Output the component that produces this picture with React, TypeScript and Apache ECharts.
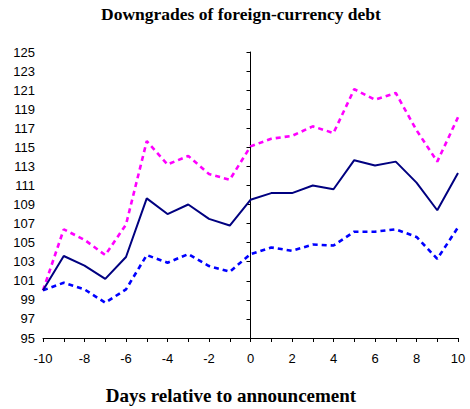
import React, { useEffect, useRef } from "react";
import * as echarts from "echarts";

const days = [-10, -9, -8, -7, -6, -5, -4, -3, -2, -1, 0, 1, 2, 3, 4, 5, 6, 7, 8, 9, 10];
const meanValues = [100.0, 103.6, 102.6, 101.2, 103.5, 109.65, 108.0, 109.0, 107.5, 106.8, 109.5, 110.2, 110.2, 111.0, 110.6, 113.65, 113.1, 113.5, 111.3, 108.4, 112.3];
const upperValues = [100.0, 106.4, 105.3, 103.7, 106.9, 115.65, 113.2, 114.1, 112.2, 111.6, 115.1, 115.9, 116.2, 117.2, 116.5, 121.1, 120.0, 120.7, 116.8, 113.5, 118.15];
const lowerValues = [100.0, 100.8, 100.1, 98.7, 100.1, 103.7, 102.9, 103.8, 102.55, 101.95, 103.8, 104.5, 104.15, 104.8, 104.7, 106.15, 106.15, 106.4, 105.6, 103.3, 106.6];
const titleText = "Downgrades of foreign-currency debt";
const xAxisTitle = "Days relative to announcement";
const xMin = -10;
const xMax = 10;
const yMin = 95;
const yMax = 125;
const yStep = 2;

const pair = (vals: number[]) => days.map((d, i) => [d, vals[i]]);

export default function App() {
  const ref = useRef<HTMLDivElement>(null);
  useEffect(() => {
    if (!ref.current) return;
    const chart = echarts.init(ref.current, null, { renderer: "svg" });
    const labelFont = { fontFamily: "'Liberation Sans', Arial, sans-serif", fontSize: 13, color: "#000" };
    const serifBold = { fontFamily: "'Liberation Serif', 'Times New Roman', serif", fontWeight: "bold" as const, fill: "#000" };
    const gridLeft = 43;
    const gridRight = 12;
    const plotW = 470 - gridLeft - gridRight;
    const zeroX = gridLeft + (plotW * (0 - xMin)) / (xMax - xMin);
    chart.setOption({
      animation: false,
      backgroundColor: "#fff",
      grid: [
        { left: gridLeft, right: gridRight, top: 52, bottom: 71, containLabel: false },
        { left: zeroX, right: gridRight, top: 52, bottom: 71, containLabel: false },
      ],
      graphic: [
        { type: "text", x: 241, y: 14, style: { ...serifBold, fontSize: 17.5, text: titleText, textAlign: "center", textVerticalAlign: "middle" } },
        { type: "text", x: 231, y: 395, style: { ...serifBold, fontSize: 19, text: xAxisTitle, textAlign: "center", textVerticalAlign: "middle" } },
      ],
      xAxis: [
        {
          type: "value",
          gridIndex: 0,
          min: xMin,
          max: xMax,
          interval: 1,
          axisLine: { onZero: false, lineStyle: { color: "#000", width: 1 } },
          axisTick: { show: true, length: 4, lineStyle: { color: "#000" } },
          axisLabel: { ...labelFont, margin: 14, formatter: (v: number) => (v % 2 === 0 ? String(v) : "") },
          splitLine: { show: false },
        },
        {
          type: "value",
          gridIndex: 1,
          min: 0,
          max: xMax,
          show: false,
        },
      ],
      yAxis: [
        {
          type: "value",
          gridIndex: 0,
          position: "left",
          min: yMin,
          max: yMax,
          interval: yStep,
          axisLine: { show: false },
          axisTick: { show: false },
          axisLabel: { ...labelFont, margin: 8 },
          splitLine: { show: false },
        },
        {
          type: "value",
          gridIndex: 1,
          position: "left",
          min: yMin,
          max: yMax,
          interval: yStep,
          axisLine: { show: true, onZero: false, lineStyle: { color: "#000", width: 1 } },
          axisTick: { show: true, length: 4, lineStyle: { color: "#000" } },
          axisLabel: { show: false },
          splitLine: { show: false },
        },
      ],
      series: [
        {
          type: "line",
          data: pair(upperValues),
          xAxisIndex: 0,
          yAxisIndex: 0,
          symbol: "none",
          lineStyle: { color: "#FF00FF", width: 2.6, type: [5, 4] },
        },
        {
          type: "line",
          data: pair(lowerValues),
          xAxisIndex: 0,
          yAxisIndex: 0,
          symbol: "none",
          lineStyle: { color: "#0000FF", width: 2.6, type: [5, 4] },
        },
        {
          type: "line",
          data: pair(meanValues),
          xAxisIndex: 0,
          yAxisIndex: 0,
          symbol: "none",
          lineStyle: { color: "#000080", width: 2 },
        },
      ],
    });
    return () => chart.dispose();
  }, []);
  return <div ref={ref} style={{ position: "fixed", left: 0, top: 0, width: 470, height: 409 }} />;
}
